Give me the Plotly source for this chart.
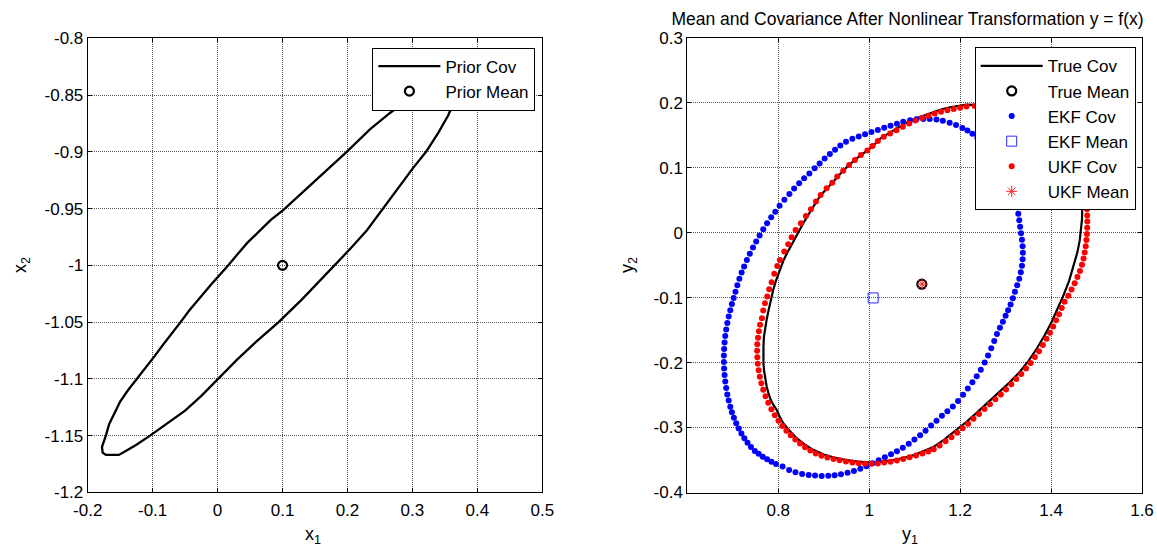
import plotly.graph_objects as go

# ---------------- Left panel: prior ----------------
prior_cov_x1 = [0.365, 0.352, 0.330, 0.290, 0.265, 0.235, 0.1988, 0.170, 0.141, 0.120, 0.101, 0.082, 0.064,
                0.046, 0.031, 0.0165, -0.007, -0.030, -0.044, -0.057, -0.071, -0.084, -0.097, -0.111, -0.1246,
                -0.138, -0.150, -0.160, -0.167, -0.172, -0.176, -0.178, -0.177, -0.172, -0.160, -0.152, -0.140,
                -0.125, -0.104, -0.080, -0.050, -0.025, 0.001, 0.030, 0.060, 0.094, 0.130, 0.155, 0.181, 0.205,
                0.230, 0.255, 0.280, 0.300, 0.321, 0.340, 0.355, 0.365, 0.373, 0.378, 0.376, 0.365]
prior_cov_x2 = [-0.832, -0.832, -0.839, -0.855, -0.866, -0.880, -0.900, -0.915, -0.930, -0.941, -0.9513, -0.960,
                -0.970, -0.980, -0.990, -1.000, -1.015, -1.030, -1.040, -1.050, -1.060, -1.070, -1.080, -1.090,
                -1.100, -1.110, -1.120, -1.131, -1.140, -1.150, -1.156, -1.160, -1.165, -1.167, -1.167, -1.167,
                -1.163, -1.158, -1.150, -1.140, -1.128, -1.115, -1.100, -1.083, -1.067, -1.050, -1.030, -1.015,
                -1.000, -0.985, -0.969, -0.950, -0.930, -0.915, -0.900, -0.883, -0.868, -0.855, -0.845, -0.838,
                -0.834, -0.832]
prior_mean_x1 = [0.1]
prior_mean_x2 = [-1.0]

# ---------------- Right panel: transformed ----------------
true_cov_y1 = [1.215, 1.197, 1.178, 1.158, 1.138, 1.119, 1.099, 1.080, 1.060, 1.040, 1.025, 1.0125, 0.998, 0.982,
               0.9686, 0.956, 0.943, 0.930, 0.919, 0.907, 0.894, 0.884, 0.874, 0.865, 0.856, 0.847, 0.838, 0.832,
               0.826, 0.819, 0.812, 0.806, 0.800, 0.795, 0.789, 0.785, 0.782, 0.778, 0.7745, 0.771, 0.7686,
               0.7675, 0.767, 0.7675, 0.7686, 0.771, 0.7745, 0.7785, 0.7833, 0.790, 0.7965, 0.803, 0.811, 0.825,
               0.8404, 0.858, 0.877, 0.900, 0.925, 0.950, 0.975, 1.000, 1.025, 1.050, 1.075, 1.100, 1.120,
               1.140, 1.165, 1.190, 1.2135, 1.237, 1.261, 1.2855, 1.309, 1.331, 1.351, 1.369, 1.386, 1.401,
               1.415, 1.428, 1.440, 1.450, 1.458, 1.463, 1.466, 1.468, 1.4685, 1.467, 1.460, 1.445, 1.420,
               1.390, 1.355, 1.320, 1.285, 1.250, 1.215]
true_cov_y2 = [0.197, 0.1955, 0.193, 0.1895, 0.185, 0.1805, 0.175, 0.1685, 0.1595, 0.1515, 0.145, 0.1365, 0.1272,
               0.1195, 0.1118, 0.1042, 0.0954, 0.0862, 0.0769, 0.068, 0.058, 0.0477, 0.0365, 0.0265, 0.0155,
               0.004, -0.007, -0.0145, -0.0215, -0.032, -0.042, -0.053, -0.0625, -0.074, -0.088, -0.099,
               -0.109, -0.122, -0.134, -0.150, -0.160, -0.175, -0.190, -0.200, -0.2112, -0.224, -0.2369,
               -0.247, -0.2574, -0.266, -0.2728, -0.283, -0.2933, -0.305, -0.3164, -0.326, -0.3343, -0.3415,
               -0.3465, -0.350, -0.3525, -0.3535, -0.353, -0.3505, -0.347, -0.342, -0.3365, -0.3305, -0.3185,
               -0.305, -0.2915, -0.277, -0.2615, -0.246, -0.2305, -0.2145, -0.197, -0.178, -0.158, -0.138,
               -0.117, -0.0955, -0.0735, -0.051, -0.030, -0.012, 0.005, 0.020, 0.035, 0.050, 0.070, 0.095,
               0.120, 0.145, 0.165, 0.180, 0.190, 0.196, 0.197]
true_mean_y1 = [1.1157]
true_mean_y2 = [-0.0794]

ekf_cov_y1 = [1.205, 1.191, 1.177, 1.162, 1.148, 1.133, 1.119, 1.104, 1.090, 1.075, 1.061, 1.047, 1.033, 1.019,
              1.005, 0.991, 0.977, 0.963, 0.949, 0.9365, 0.925, 0.9135, 0.902, 0.891, 0.880, 0.8685, 0.857,
              0.846, 0.835, 0.8245, 0.8135, 0.803, 0.7935, 0.7845, 0.7755, 0.767, 0.759, 0.7515, 0.7445,
              0.7375, 0.731, 0.725, 0.7195, 0.7145, 0.710, 0.706, 0.702, 0.698, 0.6945, 0.691, 0.688, 0.6855,
              0.6835, 0.682, 0.681, 0.6805, 0.6805, 0.681, 0.682, 0.6835, 0.6855, 0.688, 0.691, 0.6945, 0.698,
              0.7025, 0.7075, 0.713, 0.719, 0.7255, 0.7325, 0.740, 0.7485, 0.757, 0.766, 0.7755, 0.785, 0.795,
              0.8095, 0.824, 0.838, 0.8525, 0.867, 0.881, 0.8955, 0.910, 0.924, 0.938, 0.9525, 0.9665, 0.9805,
              0.994, 1.0075, 1.021, 1.0345, 1.048, 1.061, 1.074, 1.087, 1.0995, 1.112, 1.124, 1.136, 1.148,
              1.160, 1.172, 1.184, 1.1955, 1.2065, 1.217, 1.227, 1.2365, 1.2455, 1.254, 1.2615, 1.2685, 1.275,
              1.281, 1.2875, 1.294, 1.300, 1.3055, 1.311, 1.316, 1.3205, 1.3255, 1.330, 1.3335, 1.336, 1.3375,
              1.338, 1.3375, 1.336, 1.334, 1.332, 1.330, 1.328, 1.3255, 1.322, 1.318, 1.313, 1.307, 1.301,
              1.294, 1.286, 1.278, 1.269, 1.259, 1.249, 1.238, 1.227, 1.216]
ekf_cov_y2 = [0.161, 0.1655, 0.169, 0.172, 0.174, 0.175, 0.175, 0.1745, 0.173, 0.1705, 0.1675, 0.1645, 0.1615,
              0.158, 0.155, 0.1515, 0.148, 0.1445, 0.140, 0.134, 0.1275, 0.121, 0.114, 0.1065, 0.099, 0.091,
              0.0835, 0.076, 0.068, 0.0595, 0.0505, 0.0415, 0.032, 0.0235, 0.0145, 0.005, -0.0045, -0.0135,
              -0.023, -0.0325, -0.042, -0.052, -0.0615, -0.071, -0.081, -0.091, -0.1005, -0.110, -0.1195,
              -0.129, -0.139, -0.149, -0.159, -0.169, -0.179, -0.189, -0.199, -0.209, -0.219, -0.229, -0.239,
              -0.249, -0.2585, -0.268, -0.2765, -0.285, -0.2935, -0.3015, -0.309, -0.3165, -0.3235, -0.330,
              -0.336, -0.3405, -0.345, -0.349, -0.3525, -0.356, -0.360, -0.3655, -0.369, -0.3715, -0.373,
              -0.374, -0.3745, -0.3743, -0.3735, -0.372, -0.3695, -0.367, -0.3635, -0.3595, -0.355, -0.3505,
              -0.3457, -0.341, -0.3365, -0.331, -0.325, -0.3185, -0.312, -0.305, -0.297, -0.2895, -0.282,
              -0.2748, -0.2675, -0.259, -0.2497, -0.240, -0.2305, -0.221, -0.211, -0.200, -0.189, -0.178,
              -0.167, -0.156, -0.1465, -0.137, -0.128, -0.1195, -0.1105, -0.101, -0.091, -0.081, -0.071,
              -0.061, -0.051, -0.041, -0.031, -0.021, -0.011, -0.001, 0.009, 0.019, 0.029, 0.039, 0.049, 0.059,
              0.069, 0.079, 0.089, 0.098, 0.107, 0.116, 0.124, 0.132, 0.139, 0.146, 0.152, 0.157]
ekf_mean_y1 = [1.0088]
ekf_mean_y2 = [-0.1005]

ukf_cov_y1 = [1.214, 1.200, 1.186, 1.172, 1.158, 1.144, 1.130, 1.116, 1.102, 1.088, 1.074, 1.060, 1.046, 1.032,
              1.019, 1.0075, 0.996, 0.9818, 0.9686, 0.956, 0.9429, 0.9297, 0.9187, 0.9064, 0.8932, 0.8829,
              0.8719, 0.8609, 0.8499, 0.8382, 0.8294, 0.8220, 0.8132, 0.8037, 0.7978, 0.7912, 0.7855, 0.7802,
              0.7758, 0.7708, 0.7670, 0.7642, 0.7600, 0.7575, 0.7555, 0.7540, 0.7535, 0.7540, 0.7550, 0.7570,
              0.7595, 0.7630, 0.7670, 0.7720, 0.7780, 0.7850, 0.7925, 0.8005, 0.8090, 0.8180, 0.8275, 0.8375,
              0.8480, 0.8590, 0.8705, 0.8825, 0.8950, 0.9080, 0.9215, 0.9350, 0.9490, 0.9630, 0.9770, 0.9910,
              1.0050, 1.0190, 1.0330, 1.0470, 1.0610, 1.0750, 1.0890, 1.1030, 1.1170, 1.1300, 1.142, 1.155,
              1.168, 1.181, 1.1935, 1.2055, 1.2175, 1.2295, 1.2415, 1.2535, 1.2655, 1.2775, 1.2895, 1.301,
              1.3125, 1.3235, 1.3345, 1.345, 1.355, 1.3645, 1.3735, 1.382, 1.390, 1.3975, 1.4045, 1.411,
              1.4175, 1.4235, 1.4295, 1.438, 1.445, 1.452, 1.458, 1.4635, 1.468, 1.4715, 1.474, 1.4762,
              1.4778, 1.4788, 1.4795, 1.4798, 1.4795, 1.479, 1.477, 1.472, 1.465, 1.456, 1.446, 1.434, 1.421,
              1.407, 1.392, 1.376, 1.359, 1.341, 1.323, 1.305, 1.287, 1.269, 1.250, 1.232]
ukf_cov_y2 = [0.1940, 0.1922, 0.1903, 0.1883, 0.1860, 0.1832, 0.1800, 0.1765, 0.1725, 0.1680, 0.1630, 0.1575,
              0.1525, 0.1475, 0.1410, 0.1335, 0.1262, 0.1195, 0.1118, 0.1042, 0.0954, 0.0862, 0.0769, 0.0683,
              0.0580, 0.0477, 0.0360, 0.0257, 0.0145, 0.0042, -0.0071, -0.0178, -0.0292, -0.0420, -0.0512,
              -0.0635, -0.0763, -0.0871, -0.0985, -0.1086, -0.1200, -0.1317, -0.1420, -0.1520, -0.1620,
              -0.1720, -0.1820, -0.1920, -0.2020, -0.2120, -0.2220, -0.2320, -0.2420, -0.2520, -0.2620,
              -0.2720, -0.2810, -0.2895, -0.2975, -0.3050, -0.3120, -0.3185, -0.3245, -0.3305, -0.3355,
              -0.3400, -0.3435, -0.3462, -0.3485, -0.3505, -0.3522, -0.3538, -0.3550, -0.3557, -0.3558,
              -0.3552, -0.3540, -0.3525, -0.3506, -0.3483, -0.3458, -0.3430, -0.3400, -0.3368, -0.3335,
              -0.3275, -0.3212, -0.3148, -0.3082, -0.3012, -0.2940, -0.2865, -0.2790, -0.2715, -0.2640,
              -0.2565, -0.2490, -0.2415, -0.2335, -0.2255, -0.2175, -0.2090, -0.2005, -0.1915, -0.1825,
              -0.1730, -0.1635, -0.1540, -0.1445, -0.1350, -0.1255, -0.1160, -0.1065, -0.0970, -0.0875,
              -0.0780, -0.0685, -0.0590, -0.0495, -0.0400, -0.0305, -0.0210, -0.0115, -0.0020, 0.0075,
              0.0170, 0.0265, 0.0360, 0.045, 0.060, 0.075, 0.090, 0.104, 0.118, 0.131, 0.143, 0.154, 0.164,
              0.172, 0.179, 0.185, 0.189, 0.192, 0.194, 0.195, 0.195]
ukf_mean_y1 = [1.1165]
ukf_mean_y2 = [-0.0794]

# ---------------- Tick labels ----------------
left_xticks = [-0.2, -0.1, 0, 0.1, 0.2, 0.3, 0.4, 0.5]
left_xlabels = ["-0.2", "-0.1", "0", "0.1", "0.2", "0.3", "0.4", "0.5"]
left_yticks = [-1.2, -1.15, -1.1, -1.05, -1.0, -0.95, -0.9, -0.85, -0.8]
left_ylabels = ["-1.2", "-1.15", "-1.1", "-1.05", "-1", "-0.95", "-0.9", "-0.85", "-0.8"]
right_xticks = [0.8, 1.0, 1.2, 1.4, 1.6]
right_xlabels = ["0.8", "1", "1.2", "1.4", "1.6"]
right_yticks = [-0.4, -0.3, -0.2, -0.1, 0, 0.1, 0.2, 0.3]
right_ylabels = ["-0.4", "-0.3", "-0.2", "-0.1", "0", "0.1", "0.2", "0.3"]

FONT = "Liberation Sans, Arial, Helvetica, sans-serif"
W, H = 1157, 550

fig = go.Figure()

# left
fig.add_trace(go.Scatter(x=prior_cov_x1, y=prior_cov_x2, mode="lines", name="Prior Cov",
                         line=dict(color="black", width=2.3), xaxis="x", yaxis="y",
                         legend="legend", legendgroup="p1", hoverinfo="skip"))
fig.add_trace(go.Scatter(x=prior_mean_x1, y=prior_mean_x2, mode="markers", name="Prior Mean",
                         marker=dict(symbol="circle-open", size=9, color="black", line=dict(color="black", width=2.2)),
                         xaxis="x", yaxis="y", legend="legend", legendgroup="p2", hoverinfo="skip"))

# right
fig.add_trace(go.Scatter(x=true_cov_y1, y=true_cov_y2, mode="lines", name="True Cov",
                         line=dict(color="black", width=2.2), xaxis="x2", yaxis="y2",
                         legend="legend2", legendgroup="r1", hoverinfo="skip"))
fig.add_trace(go.Scatter(x=true_mean_y1, y=true_mean_y2, mode="markers", name="True Mean",
                         marker=dict(symbol="circle-open", size=9, color="black", line=dict(color="black", width=2.2)),
                         xaxis="x2", yaxis="y2", legend="legend2", legendgroup="r2", hoverinfo="skip"))
fig.add_trace(go.Scatter(x=ekf_cov_y1, y=ekf_cov_y2, mode="markers", name="EKF Cov",
                         marker=dict(symbol="circle", size=6, color="#0000ff", line=dict(width=0)),
                         xaxis="x2", yaxis="y2", legend="legend2", legendgroup="r3", hoverinfo="skip"))
fig.add_trace(go.Scatter(x=ekf_mean_y1, y=ekf_mean_y2, mode="markers", name="EKF Mean",
                         marker=dict(symbol="square-open", size=10, color="#2a2aff", line=dict(color="#2a2aff", width=1)),
                         xaxis="x2", yaxis="y2", legend="legend2", legendgroup="r4", hoverinfo="skip"))
fig.add_trace(go.Scatter(x=ukf_cov_y1, y=ukf_cov_y2, mode="markers", name="UKF Cov",
                         marker=dict(symbol="circle", size=6, color="#ff0000", line=dict(width=0)),
                         xaxis="x2", yaxis="y2", legend="legend2", legendgroup="r5", hoverinfo="skip"))
fig.add_trace(go.Scatter(x=ukf_mean_y1, y=ukf_mean_y2, mode="markers", name="UKF Mean",
                         marker=dict(symbol="asterisk-open", size=9, color="#ff2020", line=dict(color="#ff2020", width=1)),
                         xaxis="x2", yaxis="y2", legend="legend2", legendgroup="r6", hoverinfo="skip"))

axis_common = dict(showline=True, linecolor="black", linewidth=1, mirror="ticks", ticks="inside", ticklen=4,
                   tickcolor="black", tickwidth=1, showgrid=True, gridcolor="#5a5a5a", griddash="1px,1px",
                   gridwidth=1, zeroline=False, automargin=False,
                   tickfont=dict(family=FONT, size=17, color="black"))

legend_common = dict(bgcolor="white", bordercolor="black", borderwidth=1,
                     font=dict(family=FONT, size=17, color="black"),
                     traceorder="grouped", tracegroupgap=0, itemwidth=62)

fig.update_layout(
    width=W, height=H, margin=dict(l=0, r=0, t=0, b=0),
    paper_bgcolor="white", plot_bgcolor="white",
    font=dict(family=FONT, color="black"),
    xaxis=dict(domain=[87.7 / W, 542.3 / W], range=[-0.2, 0.5], tickvals=left_xticks, ticktext=left_xlabels,
               anchor="y", ticklabelstandoff=2, **axis_common),
    yaxis=dict(domain=[1 - 492.4 / H, 1 - 38.3 / H], range=[-1.2, -0.8], tickvals=left_yticks,
               ticktext=left_ylabels, anchor="x", **axis_common),
    xaxis2=dict(domain=[687.3 / W, 1142.0 / W], range=[0.6, 1.6], tickvals=right_xticks, ticktext=right_xlabels,
                anchor="y2", ticklabelstandoff=2, **axis_common),
    yaxis2=dict(domain=[1 - 492.5 / H, 1 - 37.7 / H], range=[-0.4, 0.3], tickvals=right_yticks,
                ticktext=right_ylabels, anchor="x2", **axis_common),
    legend=dict(x=535.4 / W, xanchor="right", y=1 - 47.5 / H, yanchor="top", **legend_common),
    legend2=dict(x=1135.7 / W, xanchor="right", y=1 - 47.3 / H, yanchor="top", **legend_common),
    title=dict(text="Mean and Covariance After Nonlinear Transformation y = f(x)", x=907.5 / W, xref="paper",
               xanchor="center", y=1 - 19 / H, yref="paper", yanchor="middle",
               font=dict(family=FONT, size=17.5, color="black")),
    showlegend=True,
    hovermode=False,
)

labels = [
    ("x<sub>1</sub>", 313 / W, 1 - 535 / H, 0),
    ("x<sub>2</sub>", 21 / W, 1 - 265 / H, -90),
    ("y<sub>1</sub>", 910 / W, 1 - 535 / H, 0),
    ("y<sub>2</sub>", 628 / W, 1 - 265 / H, -90),
]
for txt, ax, ay, ang in labels:
    fig.add_annotation(text=txt, x=ax, y=ay, xref="paper", yref="paper", showarrow=False, textangle=ang,
                       xanchor="center", yanchor="middle", font=dict(family=FONT, size=18, color="black"))

fig.write_html("out.html", config={"displayModeBar": False, "staticPlot": True},
               post_script="document.body.style.margin='0px';document.body.style.padding='0px';"
                           "document.documentElement.style.overflow='hidden';")
